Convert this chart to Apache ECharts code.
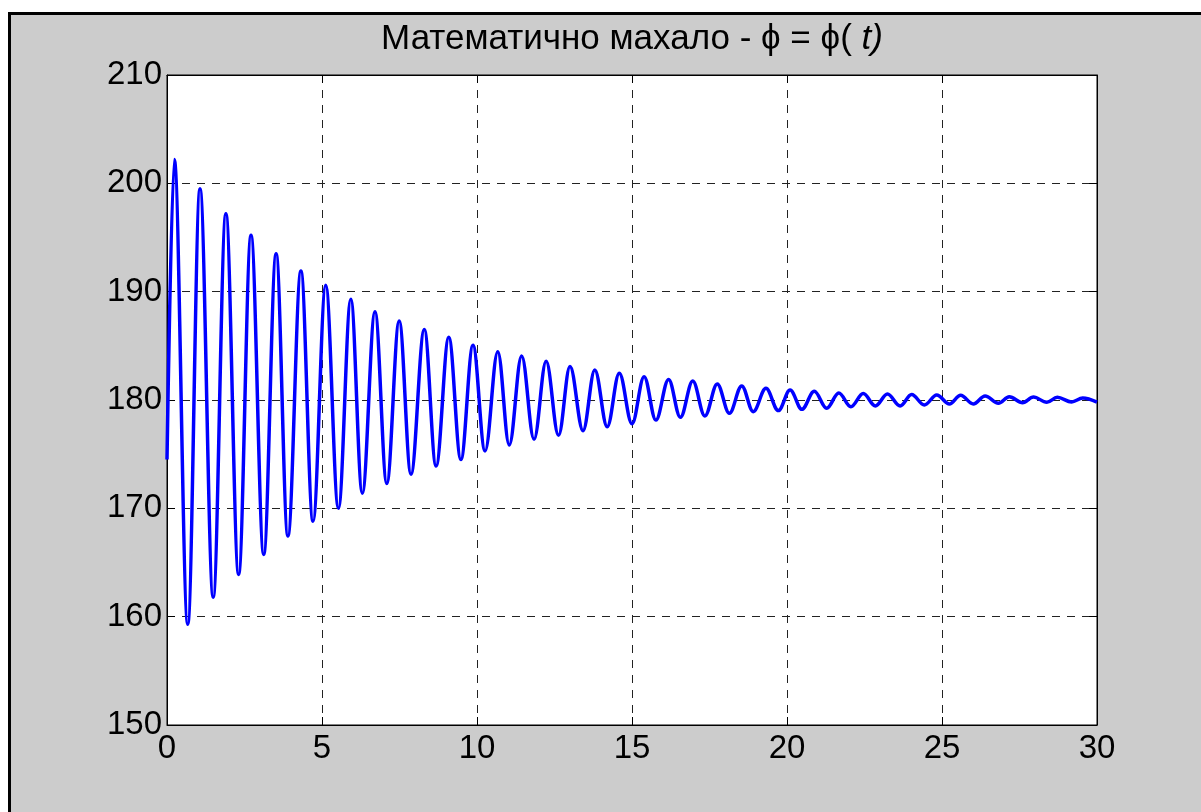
<!DOCTYPE html>
<html>
<head>
<meta charset="utf-8">
<script src="https://cdn.jsdelivr.net/npm/echarts@6/dist/echarts.min.js"></script>
<style>
  html, body { margin: 0; padding: 0; background: #ffffff; }
  #chart { width: 1201px; height: 812px; }
</style>
</head>
<body>
<div id="chart"></div>
<script>
// Time (s) of the read-off points (start, then alternating peaks and troughs, end)
const tValues = [
  0, 0.235, 0.67, 1.065, 1.49, 1.90, 2.31, 2.71, 3.12, 3.52, 3.90, 4.32, 4.71, 5.12, 5.53,
  5.93, 6.30, 6.71, 7.09, 7.49, 7.87, 8.30, 8.68, 9.09, 9.48, 9.87, 10.26, 10.67, 11.04,
  11.44, 11.84, 12.23, 12.63, 13.00, 13.42, 13.80, 14.20, 14.59, 15.00, 15.39, 15.77,
  16.18, 16.56, 16.96, 17.35, 17.75, 18.14, 18.54, 18.91, 19.32, 19.72, 20.10, 20.48,
  20.88, 21.28, 21.67, 22.06, 22.46, 22.85, 23.24, 23.65, 24.02, 24.43, 24.83, 25.24,
  25.60, 26.01, 26.39, 26.82, 27.17, 27.60, 27.95, 28.38, 28.72, 29.18, 29.54, 30
];
// Angle phi (degrees) at those times
const phiValues = [
  174.5, 202.2, 159.3, 199.5, 161.8, 197.2, 163.9, 195.2, 165.75, 193.5, 167.45, 191.9, 168.8, 190.6, 170.0,
  189.3, 171.4, 188.15, 172.3, 187.3, 173.15, 186.5, 173.9, 185.8, 174.5, 185.05, 175.3, 184.46, 175.85,
  184.06, 176.37, 183.57, 176.74, 183.1, 177.17, 182.77, 177.54, 182.46, 177.8, 182.15, 178.15,
  181.9, 178.4, 181.75, 178.52, 181.48, 178.77, 181.3, 178.92, 181.08, 179.02, 180.92, 179.14,
  180.8, 179.23, 180.65, 179.38, 180.6, 179.45, 180.55, 179.45, 180.5, 179.54, 180.46, 179.63,
  180.43, 179.63, 180.37, 179.7, 180.3, 179.75, 180.28, 179.79, 180.25, 179.82, 180.18, 179.8
];
const xTicks = { min: 0, max: 30, step: 5 };
const yTicks = { min: 150, max: 210, step: 10 };
const titleText = 'Математично махало - ϕ = ϕ( ';
const titleItalic = 't)';

const FONT = '"Liberation Sans", Arial, Helvetica, sans-serif';
const chart = echarts.init(document.getElementById('chart'), null, { renderer: 'canvas' });

const plotLeft = 167, plotRight = 1097, plotTop = 75, plotBottom = 725;

const gridLine = { show: true, lineStyle: { color: '#222', width: 1, type: [8, 7] } };
const axisLineStyle = { show: true, onZero: false, lineStyle: { color: '#000', width: 1 } };
const tick = { show: true, inside: true, length: 8, lineStyle: { color: '#000', width: 1 } };
const label = { color: '#000', fontSize: 33, fontFamily: FONT };

chart.setOption({
  backgroundColor: '#ffffff',
  animation: false,
  graphic: [
    {
      type: 'rect', z: -10, silent: true,
      shape: { x: 9.5, y: 13.5, width: 1300, height: 900 },
      style: { fill: '#cccccc', stroke: '#000000', lineWidth: 3 }
    },
    {
      type: 'text', z: 10, silent: true,
      x: (plotLeft + plotRight) / 2, y: 39,
      style: {
        text: '{n|' + titleText + '}{i|' + titleItalic + '}',
        align: 'center', verticalAlign: 'middle',
        rich: {
          n: { fontSize: 35, fontFamily: FONT, fill: '#000', fontStyle: 'normal' },
          i: { fontSize: 35, fontFamily: FONT, fill: '#000', fontStyle: 'italic' }
        }
      }
    }
  ],
  grid: {
    left: plotLeft, top: plotTop, right: 1201 - plotRight, bottom: 812 - plotBottom,
    show: true, backgroundColor: '#ffffff', borderColor: '#000', borderWidth: 1
  },
  xAxis: [
    {
      type: 'value', min: xTicks.min, max: xTicks.max, interval: xTicks.step,
      position: 'bottom',
      axisLine: axisLineStyle, axisTick: tick,
      axisLabel: Object.assign({ margin: 7 }, label),
      splitLine: gridLine
    },
    {
      type: 'value', min: xTicks.min, max: xTicks.max, interval: xTicks.step,
      position: 'top',
      axisLine: axisLineStyle, axisTick: tick,
      axisLabel: { show: false }, splitLine: { show: false }
    }
  ],
  yAxis: [
    {
      type: 'value', min: yTicks.min, max: yTicks.max, interval: yTicks.step,
      position: 'left',
      axisLine: axisLineStyle, axisTick: tick,
      axisLabel: Object.assign({ margin: 5 }, label),
      splitLine: gridLine
    },
    {
      type: 'value', min: yTicks.min, max: yTicks.max, interval: yTicks.step,
      position: 'right',
      axisLine: axisLineStyle, axisTick: tick,
      axisLabel: { show: false }, splitLine: { show: false }
    }
  ],
  series: [
    {
      type: 'line',
      xAxisIndex: 0, yAxisIndex: 0,
      data: tValues.map((t, i) => [t, phiValues[i]]),
      showSymbol: false,
      smooth: 0.36,
      smoothMonotone: 'x',
      lineStyle: { color: '#0000ff', width: 3.5 },
      clip: true
    }
  ]
});
</script>
</body>
</html>
